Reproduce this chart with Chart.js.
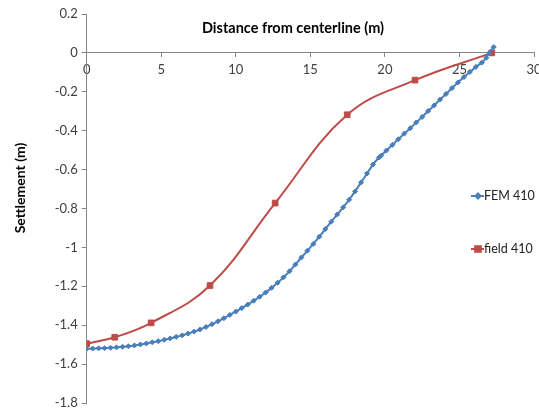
<!DOCTYPE html>
<html>
<head>
<meta charset="utf-8">
<title>Settlement profile</title>
<script src="https://cdn.jsdelivr.net/npm/chart.js@4/dist/chart.umd.min.js"></script>
<style>
  html, body { margin: 0; padding: 0; background: #fff; }
  #wrap { width: 539px; height: 408px; position: relative; }
</style>
</head>
<body>
<div id="wrap"><canvas id="settlementChart"></canvas></div>
<script>
// FEM 410 - distance (m) and settlement (m)
const femX = [0, 0.4, 0.8, 1.2, 1.6, 2.0, 2.4, 2.8, 3.2, 3.6, 4.0, 4.4, 4.8, 5.2, 5.6, 6.0, 6.4, 6.8, 7.2, 7.6,
  8.0, 8.4, 8.8, 9.2, 9.6, 10.0, 10.4, 10.8, 11.2, 11.6, 12.0, 12.4, 12.8, 13.2, 13.6, 14.0, 14.4, 14.8, 15.2, 15.6,
  16.0, 16.4, 16.8, 17.2, 17.6, 18.0, 18.4, 18.8, 19.2, 19.6, 19.75, 20.1, 20.5, 20.9, 21.3, 21.7, 22.1, 22.5, 22.9, 23.3,
  23.7, 24.1, 24.5, 24.9, 25.3, 25.7, 26.1, 26.5, 26.8, 27.0, 27.3];
const femY = [-1.521, -1.520, -1.519, -1.518, -1.516, -1.514, -1.511, -1.508, -1.504, -1.499, -1.494, -1.488, -1.482, -1.475, -1.468, -1.460, -1.452, -1.443, -1.433, -1.422,
  -1.409, -1.395, -1.380, -1.364, -1.347, -1.330, -1.312, -1.294, -1.274, -1.254, -1.232, -1.208, -1.182, -1.154, -1.123, -1.088, -1.052, -1.017, -0.982, -0.945,
  -0.906, -0.868, -0.831, -0.794, -0.755, -0.712, -0.666, -0.620, -0.574, -0.538, -0.528, -0.502, -0.473, -0.444, -0.415, -0.387, -0.358, -0.329, -0.299, -0.270,
  -0.240, -0.211, -0.181, -0.152, -0.124, -0.098, -0.072, -0.050, -0.025, 0.000, 0.030];

// field 410 - measured points
const fieldX = [0, 1.88, 4.32, 8.27, 12.64, 17.47, 22.02, 27.17];
const fieldY = [-1.495, -1.462, -1.388, -1.196, -0.772, -0.318, -0.140, 0.0];

const seriesNames = ["FEM 410", "field 410"];
const xTicks = [0, 5, 10, 15, 20, 25, 30];
const yTicks = [-1.8, -1.6, -1.4, -1.2, -1, -0.8, -0.6, -0.4, -0.2, 0, 0.2];
const xTitle = "Distance from centerline (m)";
const yTitle = "Settlement (m)";

const blue = "#4A7EBB";
const red = "#BE4B48";
const axisGray = "#868686";
const fontName = "Lato";

function toPoints(xs, ys) {
  return xs.map((x, i) => ({ x: x, y: ys[i] }));
}

// axis titles + legend drawn inside the plot, like the excel original
const titlesAndLegend = {
  id: "titlesAndLegend",
  afterDraw(chart) {
    const ctx = chart.ctx;
    ctx.save();
    ctx.fillStyle = "#000";
    ctx.textAlign = "center";
    ctx.textBaseline = "middle";
    ctx.font = "bold 14.5px " + fontName;
    ctx.fillText(xTitle, 293, 28);
    ctx.save();
    ctx.font = "bold 14px " + fontName;
    ctx.translate(20, 188);
    ctx.rotate(-Math.PI / 2);
    ctx.fillText(yTitle, 0, 0);
    ctx.restore();

    const rows = [196, 249];
    chart.data.datasets.forEach((ds, i) => {
      const y = rows[i];
      ctx.strokeStyle = ds.borderColor;
      ctx.lineWidth = 2;
      ctx.beginPath();
      ctx.moveTo(471, y);
      ctx.lineTo(484, y);
      ctx.stroke();
      ctx.fillStyle = ds.pointBackgroundColor;
      ctx.strokeStyle = ds.pointBorderColor;
      Chart.helpers.drawPoint(ctx, {
        pointStyle: ds.pointStyle,
        radius: ds.pointRadius,
        borderWidth: 1,
        rotation: 0
      }, 478, y);
      ctx.fillStyle = "#222";
      ctx.font = "12.5px " + fontName;
      ctx.textAlign = "left";
      ctx.fillText(ds.label, 484, y);
    });
    ctx.restore();
  }
};

new Chart(document.getElementById("settlementChart"), {
  type: "line",
  data: {
    datasets: [
      {
        label: seriesNames[0],
        data: toPoints(femX, femY),
        borderColor: blue,
        backgroundColor: blue,
        pointBackgroundColor: blue,
        pointBorderColor: blue,
        pointStyle: "rectRot",
        pointRadius: 2.5,
        pointBorderWidth: 1,
        borderWidth: 2,
        tension: 0.2
      },
      {
        label: seriesNames[1],
        data: toPoints(fieldX, fieldY),
        borderColor: red,
        backgroundColor: red,
        pointBackgroundColor: red,
        pointBorderColor: red,
        pointStyle: "rect",
        pointRadius: 4,
        pointBorderWidth: 1,
        borderWidth: 2,
        tension: 0.4
      }
    ]
  },
  options: {
    responsive: true,
    maintainAspectRatio: false,
    animation: false,
    layout: {
      padding: { top: 14, bottom: 4, right: 1.5, left: 0 }
    },
    plugins: {
      legend: { display: false },
      tooltip: { enabled: false }
    },
    scales: {
      x: {
        type: "linear",
        position: { y: 0 },
        min: 0,
        max: 30,
        afterBuildTicks: scale => { scale.ticks = xTicks.map(v => ({ value: v })); },
        afterFit: scale => {
          scale.paddingLeft = 0;
          scale.paddingRight = 0;
        },
        ticks: {
          color: "#404040",
          font: { family: fontName, size: 13 },
          padding: 5,
          maxRotation: 0,
          callback: v => String(v)
        },
        grid: { drawOnChartArea: false, drawTicks: true, tickLength: 4, color: axisGray },
        border: { color: axisGray, width: 1 }
      },
      y: {
        type: "linear",
        position: "left",
        min: -1.8,
        max: 0.2,
        afterBuildTicks: scale => { scale.ticks = yTicks.map(v => ({ value: v })); },
        afterFit: scale => {
          scale.width = 86.7;
          scale.paddingTop = 0;
          scale.paddingBottom = 0;
        },
        ticks: {
          color: "#404040",
          font: { family: fontName, size: 13 },
          padding: 4,
          callback: v => String(Math.round(v * 10) / 10)
        },
        grid: { drawOnChartArea: false, drawTicks: true, tickLength: 5, color: axisGray },
        border: { color: axisGray, width: 1 }
      }
    }
  },
  plugins: [titlesAndLegend]
});
</script>
</body>
</html>
